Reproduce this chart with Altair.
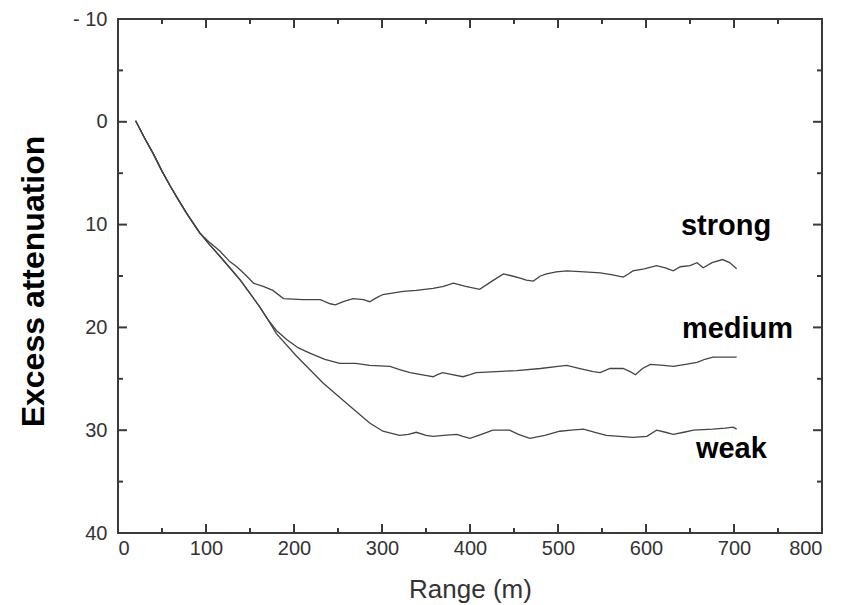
import altair as alt
import pandas as pd

# ---- data ----
strong_x = [20, 30, 40, 50, 59, 68, 78, 93, 105, 116, 127, 135, 145, 154, 165, 176, 188, 210, 230, 241, 247, 256, 267,
            279, 286, 294, 301, 324, 339, 358, 370, 381, 395, 411, 425, 438, 448, 457, 464, 472, 480, 487, 498,
            510, 530, 548, 562, 574, 580, 585, 598, 612, 622, 631, 639, 650, 658, 665, 675, 687, 695, 703]
strong_y = [-0.1, 1.55, 3.1, 4.8, 6.2, 7.5, 8.9, 10.85, 11.8, 12.6, 13.6, 14.1, 14.9, 15.7, 16.0, 16.4, 17.2, 17.3,
            17.3, 17.7, 17.8, 17.5, 17.2, 17.3, 17.5, 17.1, 16.8, 16.5, 16.4, 16.2, 16.0, 15.7, 16.0, 16.3, 15.5,
            14.8, 15.0, 15.2, 15.4, 15.5, 15.0, 14.8, 14.6, 14.5, 14.6, 14.7, 14.9, 15.1, 14.8, 14.5, 14.3, 14.0,
            14.2, 14.5, 14.1, 14.0, 13.7, 14.2, 13.7, 13.4, 13.7, 14.3]

medium_x = [20, 30, 40, 50, 59, 68, 78, 93, 104, 116, 127, 139, 150, 161, 170, 180, 192, 205, 218, 235, 252, 270,
            286, 309, 320, 332, 351, 358, 363, 369, 380, 392, 400, 407, 430, 453, 480, 500, 510, 525, 540, 548,
            559, 574, 582, 588, 596, 605, 620, 631, 645, 658, 667, 676, 690, 703]
medium_y = [-0.1, 1.55, 3.1, 4.8, 6.2, 7.5, 8.9, 10.8, 11.95, 13.1, 14.2, 15.4, 16.7, 18.0, 19.2, 20.3, 21.2, 22.0,
            22.5, 23.1, 23.5, 23.5, 23.7, 23.8, 24.1, 24.4, 24.7, 24.8, 24.6, 24.4, 24.6, 24.8, 24.6, 24.4, 24.3,
            24.2, 24.0, 23.8, 23.7, 24.0, 24.3, 24.4, 24.0, 24.0, 24.3, 24.6, 24.0, 23.6, 23.7, 23.8, 23.6, 23.4,
            23.1, 22.9, 22.9, 22.9]

weak_x = [20, 30, 40, 50, 59, 68, 78, 93, 104, 116, 127, 139, 150, 161, 170, 180, 203, 233, 264, 286, 301, 320,
          330, 339, 350, 358, 370, 385, 392, 400, 413, 426, 445, 455, 468, 485, 502, 515, 529, 542, 555, 570,
          585, 601, 612, 622, 631, 643, 654, 676, 690, 699, 703]
weak_y = [-0.1, 1.55, 3.1, 4.8, 6.2, 7.5, 8.9, 10.8, 11.95, 13.1, 14.2, 15.4, 16.7, 18.0, 19.2, 20.6, 22.8, 25.4,
          27.7, 29.3, 30.1, 30.5, 30.4, 30.2, 30.5, 30.6, 30.5, 30.4, 30.6, 30.8, 30.4, 30.0, 30.0, 30.4, 30.8,
          30.5, 30.1, 30.0, 29.9, 30.2, 30.5, 30.6, 30.7, 30.6, 30.0, 30.2, 30.4, 30.2, 30.0, 29.9, 29.8, 29.7,
          29.9]

label_text = ["strong", "medium", "weak"]
label_x = [691, 704, 697]
label_y = [11.0, 21.0, 32.7]

x_major = [0, 100, 200, 300, 400, 500, 600, 700, 800]
x_minor = [50, 150, 250, 350, 450, 550, 650, 750]
y_major = [-10, 0, 10, 20, 30, 40]
y_minor = [-5, 5, 15, 25, 35]

# ---- tables ----
rows = []
for name, xs, ys in [("strong", strong_x, strong_y), ("medium", medium_x, medium_y), ("weak", weak_x, weak_y)]:
    for xv, yv in zip(xs, ys):
        rows.append({"series": name, "x": xv, "y": yv})
lines_df = pd.DataFrame(rows)
labels_df = pd.DataFrame({"text": label_text, "x": label_x, "y": label_y})
xmaj_df = pd.DataFrame({"x": x_major})
xmin_df = pd.DataFrame({"x": x_minor})
ymaj_df = pd.DataFrame({"y": y_major})
ymin_df = pd.DataFrame({"y": y_minor})

W, H = 704, 514
FONT = "Liberation Sans"
AX = "#3a3a3a"

xscale = alt.Scale(domain=[0, 800], nice=False, zero=False)
yscale = alt.Scale(domain=[-10, 40], nice=False, zero=False, reverse=True)

xaxis = alt.Axis(values=x_major, ticks=False, domain=False, grid=False,
                 labelFont=FONT, labelFontSize=20, labelColor="#333", labelPadding=5,
                 title="Range (m)", titleFont=FONT, titleFontSize=26, titleFontWeight="normal",
                 titleColor="#333", titleBaseline="alphabetic", titleY=64, titleX=352)
yaxis = alt.Axis(values=y_major, ticks=False, domain=False, grid=False,
                 labelFont=FONT, labelFontSize=20, labelColor="#333", labelPadding=11,
                 labelExpr="datum.value < 0 ? '- ' + format(-datum.value, 'd') : datum.label",
                 title="Excess attenuation", titleFont=FONT, titleFontSize=32, titleFontWeight="bold",
                 titleColor="#000", titleAngle=270, titleAlign="center", titleBaseline="alphabetic",
                 titleX=-75, titleY=262)

X = alt.X("x:Q", scale=xscale, axis=xaxis)
Y = alt.Y("y:Q", scale=yscale, axis=yaxis)

lines = alt.Chart(lines_df).mark_line(color="#444", strokeWidth=1.3).encode(
    x=X, y=Y, detail="series:N", order="x:Q")

texts = alt.Chart(labels_df).mark_text(font=FONT, fontSize=29, fontWeight="bold", color="#000",
                                      align="center", baseline="alphabetic").encode(
    x=X, y=Y, text="text:N")

def xticks(df, length):
    bottom = alt.Chart(df).mark_rule(color=AX, strokeWidth=2).encode(
        x=X, y=alt.value(H), y2=alt.value(H - length))
    top = alt.Chart(df).mark_rule(color=AX, strokeWidth=2).encode(
        x=X, y=alt.value(0), y2=alt.value(length))
    return [bottom, top]

def yticks(df, length):
    left = alt.Chart(df).mark_rule(color=AX, strokeWidth=2).encode(
        y=Y, x=alt.value(0), x2=alt.value(length))
    right = alt.Chart(df).mark_rule(color=AX, strokeWidth=2).encode(
        y=Y, x=alt.value(W), x2=alt.value(W - length))
    return [left, right]

layers = xticks(xmaj_df, 9) + xticks(xmin_df, 5) + yticks(ymaj_df, 9) + yticks(ymin_df, 5) + [lines, texts]

chart = alt.layer(*layers).properties(
    width=W, height=H,
    autosize=alt.AutoSizeParams(type="none"),
    padding={"left": 118, "top": 19, "right": 31, "bottom": 72},
    background="white",
).configure_view(stroke=AX, strokeWidth=2)

chart.save("out.html", embed_options={"renderer": "svg", "actions": False})
